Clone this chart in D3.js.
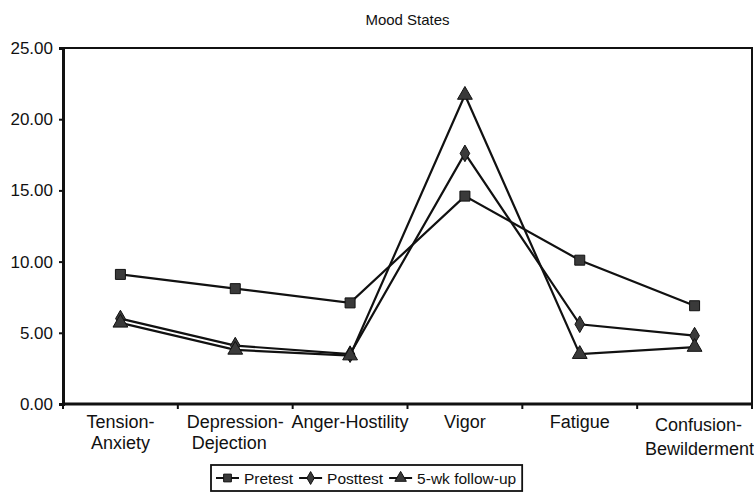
<!DOCTYPE html>
<html>
<head>
<meta charset="utf-8">
<script src="https://cdn.jsdelivr.net/npm/d3@7"></script>
<style>
  body { margin: 0; background: #fff; }
  text { font-family: "Liberation Sans", Arial, Helvetica, sans-serif; fill: #111; }
</style>
</head>
<body>
<svg width="754" height="500"></svg>
<script>
const categories = ["Tension-\nAnxiety", "Depression-\nDejection", "Anger-Hostility", "Vigor", "Fatigue", "Confusion-\nBewilderment"];
const pretest = [9.1, 8.1, 7.1, 14.6, 10.1, 6.9];
const posttest = [6.0, 4.1, 3.5, 17.6, 5.6, 4.8];
const followup = [5.7, 3.8, 3.4, 21.7, 3.5, 4.0];
const yTicks = [0, 5, 10, 15, 20, 25];
const seriesNames = ["Pretest", "Posttest", "5-wk follow-up"];

const svg = d3.select("svg");
const m = {left: 63, right: 752, top: 48, bottom: 404};

let x = d3.scaleBand().domain(categories).range([m.left, m.right]);
let y = d3.scaleLinear().domain([0, 25]).range([m.bottom, m.top]);
let cx = c => x(c) + x.bandwidth() / 2;

// title
svg.append("text")
  .attr("x", (m.left + m.right) / 2)
  .attr("y", 25)
  .attr("text-anchor", "middle")
  .style("font-size", "15px")
  .text("Mood States");

// frame (top + right)
svg.append("path")
  .attr("d", `M${m.left},${m.top}H${m.right}V${m.bottom}`)
  .attr("fill", "none").attr("stroke", "#111").attr("stroke-width", 2);

// y axis
let yAxis = svg.append("g")
  .attr("transform", `translate(${m.left},0)`)
  .call(d3.axisLeft(y).tickValues(yTicks).tickSize(4).tickPadding(6).tickFormat(d3.format(".2f")));
yAxis.select(".domain").attr("stroke-width", 3).attr("stroke", "#111");
yAxis.selectAll(".tick line").attr("stroke-width", 2).attr("stroke", "#111");
yAxis.selectAll(".tick text").style("font-size", "17px").attr("fill", "#111");

// x axis, ticks on band edges
let xAxis = svg.append("g").attr("transform", `translate(0,${m.bottom})`);
xAxis.append("line")
  .attr("x1", m.left).attr("x2", m.right)
  .attr("stroke", "#111").attr("stroke-width", 3);
let edges = categories.map(c => x(c)).concat([m.right]);
xAxis.selectAll(".edge").data(edges).enter().append("line")
  .attr("class", "edge")
  .attr("x1", d => d).attr("x2", d => d)
  .attr("y1", 0).attr("y2", 5)
  .attr("stroke", "#111").attr("stroke-width", 2);

let labelShift = {"Depression-\nDejection": [0, -6], "Confusion-\nBewilderment": [4, 5]};
categories.forEach(c => {
  let parts = c.split("\n");
  parts.forEach((p, i) => {
    let dx = labelShift[c] ? labelShift[c][i] : 0;
    svg.append("text")
      .attr("x", cx(c) + dx)
      .attr("y", m.bottom + 24 + i * 21 + (c.startsWith("Confusion") ? 3 * (i + 1) : 0))
      .attr("text-anchor", "middle")
      .style("font-size", "18px")
      .text(p);
  });
});

// series
const symbols = [d3.symbolSquare, d3.symbolDiamond, d3.symbolTriangle];
const symSize = [100, 80, 95];
const allSeries = [pretest, posttest, followup];

let line = d3.line()
  .x((d, i) => cx(categories[i]))
  .y(d => y(d));

allSeries.forEach((vals, s) => {
  svg.append("path")
    .datum(vals)
    .attr("d", line)
    .attr("fill", "none")
    .attr("stroke", "#111")
    .attr("stroke-width", 2.2);
  svg.selectAll(".mk" + s).data(vals).enter().append("path")
    .attr("class", "mk" + s)
    .attr("transform", (d, i) => `translate(${cx(categories[i])},${y(d)})`)
    .attr("d", d3.symbol().type(symbols[s]).size(symSize[s]))
    .attr("fill", "#3a3a3a")
    .attr("stroke", "#111")
    .attr("stroke-width", 1);
});

// legend
let lg = svg.append("g");
let box = lg.append("rect")
  .attr("x", 211).attr("y", 465).attr("height", 26)
  .attr("fill", "#fff").attr("stroke", "#111").attr("stroke-width", 1.8);
let px = 211 + 5;
seriesNames.forEach((n, s) => {
  let g = lg.append("g").attr("transform", `translate(${px},478)`);
  g.append("line").attr("x1", 0).attr("x2", 23).attr("stroke", "#111").attr("stroke-width", 2);
  g.append("path")
    .attr("transform", "translate(11.5,0)")
    .attr("d", d3.symbol().type(symbols[s]).size(symSize[s] * 0.6))
    .attr("fill", "#3a3a3a").attr("stroke", "#111").attr("stroke-width", 1);
  let t = g.append("text").attr("x", 28).attr("y", 5.5).style("font-size", "15.5px").text(n);
  px += 28 + t.node().getComputedTextLength() + 6;
});
box.attr("width", px - 211);
</script>
</body>
</html>
